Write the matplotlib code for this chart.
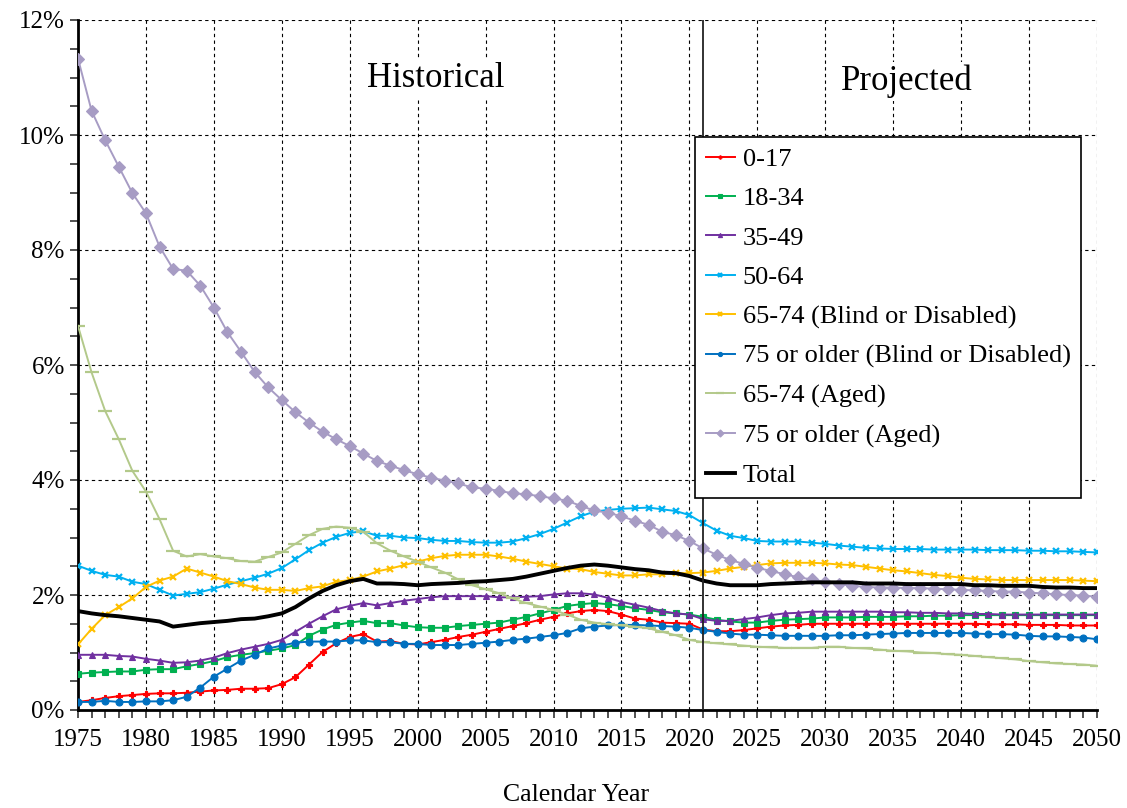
import matplotlib.pyplot as plt
from matplotlib.ticker import MultipleLocator, FuncFormatter

plt.rcParams['font.family'] = ['Liberation Serif', 'DejaVu Serif']

years = list(range(1975, 2051))

# values in percent, one per year 1975-2050
age_0_17 = [0.14, 0.17, 0.21, 0.24, 0.26, 0.28, 0.29, 0.29, 0.30, 0.32, 0.34, 0.35, 0.37, 0.37, 0.38, 0.45, 0.57, 0.79, 1.01, 1.16, 1.27,
            1.32, 1.19, 1.20, 1.15, 1.14, 1.18, 1.22, 1.27, 1.31, 1.36, 1.41, 1.46, 1.51, 1.57, 1.62, 1.68, 1.72, 1.74, 1.72, 1.66, 1.59, 1.57, 1.52, 1.51, 1.50,
            1.40, 1.37, 1.37, 1.39, 1.42, 1.45, 1.47, 1.48, 1.50, 1.50, 1.50, 1.50, 1.50, 1.50, 1.50, 1.50, 1.50, 1.50, 1.50, 1.50, 1.50, 1.49, 1.49, 1.49, 1.48, 1.48, 1.48, 1.47, 1.47, 1.47]
age_18_34 = [0.63, 0.65, 0.66, 0.67, 0.67, 0.70, 0.71, 0.71, 0.76, 0.80, 0.85, 0.92, 0.96, 0.99, 1.03, 1.07, 1.13, 1.29, 1.40, 1.48, 1.52,
             1.55, 1.51, 1.51, 1.47, 1.44, 1.43, 1.43, 1.46, 1.48, 1.50, 1.52, 1.57, 1.62, 1.68, 1.74, 1.81, 1.84, 1.86, 1.84, 1.81, 1.77, 1.74, 1.70, 1.68, 1.66,
             1.62, 1.57, 1.54, 1.52, 1.52, 1.55, 1.57, 1.58, 1.59, 1.61, 1.61, 1.61, 1.62, 1.62, 1.62, 1.63, 1.63, 1.64, 1.64, 1.65, 1.65, 1.65, 1.65, 1.65, 1.65, 1.65, 1.65, 1.65, 1.65, 1.65]
age_35_49 = [0.96, 0.96, 0.96, 0.94, 0.93, 0.89, 0.86, 0.82, 0.83, 0.86, 0.91, 0.99, 1.05, 1.10, 1.15, 1.22, 1.36, 1.50, 1.63, 1.75, 1.81,
             1.86, 1.82, 1.86, 1.90, 1.93, 1.96, 1.98, 1.98, 1.98, 1.98, 1.96, 1.96, 1.97, 1.98, 2.01, 2.03, 2.03, 2.01, 1.95, 1.88, 1.83, 1.78, 1.72, 1.68, 1.66,
             1.58, 1.55, 1.55, 1.58, 1.61, 1.65, 1.68, 1.69, 1.71, 1.71, 1.71, 1.71, 1.71, 1.71, 1.70, 1.70, 1.69, 1.69, 1.68, 1.68, 1.67, 1.67, 1.66, 1.66, 1.66, 1.66, 1.66, 1.66, 1.66, 1.66]
age_50_64 = [2.51, 2.42, 2.35, 2.32, 2.23, 2.19, 2.09, 1.99, 2.02, 2.05, 2.11, 2.18, 2.24, 2.30, 2.37, 2.47, 2.62, 2.78, 2.91, 3.01, 3.08,
             3.11, 3.03, 3.03, 3.00, 2.99, 2.96, 2.94, 2.94, 2.92, 2.91, 2.91, 2.93, 2.99, 3.06, 3.15, 3.26, 3.37, 3.45, 3.48, 3.50, 3.51, 3.52, 3.49, 3.46, 3.39,
             3.25, 3.12, 3.03, 2.99, 2.94, 2.93, 2.93, 2.93, 2.91, 2.89, 2.86, 2.84, 2.82, 2.81, 2.80, 2.80, 2.80, 2.79, 2.79, 2.79, 2.79, 2.78, 2.78, 2.78, 2.77, 2.77, 2.76, 2.76, 2.75, 2.74]
age_65_74_bd = [1.14, 1.41, 1.65, 1.79, 1.94, 2.14, 2.25, 2.32, 2.46, 2.39, 2.32, 2.24, 2.19, 2.13, 2.09, 2.09, 2.07, 2.12, 2.15, 2.23, 2.26,
                2.32, 2.41, 2.46, 2.52, 2.58, 2.64, 2.68, 2.70, 2.70, 2.70, 2.67, 2.63, 2.58, 2.54, 2.50, 2.46, 2.45, 2.40, 2.37, 2.34, 2.34, 2.36, 2.36, 2.38, 2.38,
                2.39, 2.42, 2.46, 2.49, 2.52, 2.55, 2.56, 2.56, 2.56, 2.55, 2.53, 2.52, 2.49, 2.46, 2.43, 2.41, 2.38, 2.35, 2.33, 2.30, 2.28, 2.27, 2.26, 2.26, 2.26, 2.26, 2.26, 2.26, 2.25, 2.24]
age_75_bd = [0.14, 0.14, 0.16, 0.14, 0.14, 0.15, 0.15, 0.17, 0.23, 0.39, 0.58, 0.72, 0.86, 0.96, 1.07, 1.12, 1.17, 1.19, 1.19, 1.19, 1.21,
             1.21, 1.18, 1.18, 1.15, 1.15, 1.13, 1.13, 1.13, 1.15, 1.17, 1.19, 1.22, 1.24, 1.27, 1.30, 1.34, 1.42, 1.45, 1.47, 1.48, 1.48, 1.47, 1.46, 1.45, 1.43,
             1.39, 1.36, 1.33, 1.31, 1.31, 1.30, 1.29, 1.29, 1.29, 1.29, 1.30, 1.30, 1.31, 1.32, 1.33, 1.34, 1.34, 1.34, 1.34, 1.34, 1.33, 1.32, 1.32, 1.31, 1.29, 1.28, 1.28, 1.27, 1.26, 1.23]
age_65_74_aged = [6.68, 5.87, 5.20, 4.71, 4.16, 3.80, 3.32, 2.77, 2.67, 2.71, 2.67, 2.64, 2.59, 2.58, 2.66, 2.74, 2.89, 3.04, 3.15, 3.19, 3.17,
                  3.10, 2.90, 2.77, 2.67, 2.58, 2.48, 2.39, 2.27, 2.17, 2.10, 2.03, 1.94, 1.86, 1.80, 1.74, 1.66, 1.57, 1.52, 1.49, 1.47, 1.45, 1.42, 1.36, 1.30, 1.22,
                  1.18, 1.16, 1.14, 1.12, 1.10, 1.09, 1.08, 1.08, 1.08, 1.10, 1.10, 1.08, 1.07, 1.05, 1.03, 1.02, 1.00, 0.99, 0.97, 0.96, 0.94, 0.92, 0.90, 0.88, 0.85, 0.83, 0.81, 0.80, 0.79, 0.77]
age_75_aged = [11.33, 10.42, 9.91, 9.45, 8.99, 8.64, 8.06, 7.67, 7.64, 7.38, 7.00, 6.57, 6.23, 5.88, 5.61, 5.39, 5.18, 5.00, 4.84, 4.71, 4.59,
               4.46, 4.33, 4.25, 4.17, 4.10, 4.04, 3.99, 3.94, 3.87, 3.85, 3.81, 3.77, 3.75, 3.72, 3.68, 3.64, 3.55, 3.47, 3.43, 3.37, 3.29, 3.22, 3.10, 3.04, 2.94,
               2.81, 2.70, 2.61, 2.54, 2.47, 2.42, 2.36, 2.31, 2.27, 2.23, 2.19, 2.16, 2.14, 2.13, 2.13, 2.12, 2.12, 2.11, 2.10, 2.09, 2.08, 2.07, 2.06, 2.06, 2.04, 2.03, 2.01, 2.00, 1.99, 1.97]
total = [1.72, 1.68, 1.65, 1.63, 1.60, 1.57, 1.54, 1.45, 1.48, 1.51, 1.53, 1.55, 1.58, 1.59, 1.63, 1.68, 1.79, 1.94, 2.07, 2.17, 2.24,
         2.28, 2.20, 2.20, 2.19, 2.17, 2.19, 2.20, 2.21, 2.23, 2.24, 2.26, 2.28, 2.32, 2.37, 2.42, 2.47, 2.51, 2.53, 2.51, 2.48, 2.45, 2.43, 2.39, 2.38, 2.33,
         2.25, 2.20, 2.17, 2.17, 2.17, 2.19, 2.20, 2.21, 2.22, 2.22, 2.22, 2.22, 2.20, 2.20, 2.20, 2.19, 2.19, 2.19, 2.19, 2.19, 2.17, 2.17, 2.16, 2.16, 2.16, 2.14, 2.13, 2.13, 2.12, 2.12]

last_historical = 2021

fig = plt.figure(figsize=(11.27, 8.08), dpi=100)
ax = fig.add_axes([78 / 1127, 98 / 808, 1019 / 1127, 690 / 808])

# label, data, colour, marker, marker size
series = [
    ("0-17", age_0_17, "#FF0000", "P", 4),
    ("18-34", age_18_34, "#00B050", "s", 5),
    ("35-49", age_35_49, "#7030A0", "^", 5),
    ("50-64", age_50_64, "#00B0F0", "x", 5),
    ("65-74 (Blind or Disabled)", age_65_74_bd, "#FFC000", "x", 4.5),
    ("75 or older (Blind or Disabled)", age_75_bd, "#0070C0", "o", 5),
    ("65-74 (Aged)", age_65_74_aged, "#B3C98A", "_", 10),
    ("75 or older (Aged)", age_75_aged, "#A79CC4", "D", 6),
]
for label, vals, col, mk, ms in series:
    ax.plot(years, vals, color=col, lw=1.4, marker=mk, ms=ms, mew=1.6 if mk in "x_" else 0.8,
            mec=col, mfc=col, label=label, zorder=3)
ax.plot(years, total, color="black", lw=2.8, label="Total", zorder=4)

ax.axvline(last_historical, color="#222222", lw=1.3, zorder=5)

ax.set_xlim(1975, 2050)
ax.set_ylim(0, 12)
ax.xaxis.set_major_locator(MultipleLocator(5))
ax.xaxis.set_minor_locator(MultipleLocator(1))
ax.yaxis.set_major_locator(MultipleLocator(2))
ax.yaxis.set_minor_locator(MultipleLocator(0.5))
ax.yaxis.set_major_formatter(FuncFormatter(lambda v, p: f"{v:.0f}%"))
ax.grid(True, which="major", color="black", ls=(0, (3, 3)), lw=0.8)
ax.tick_params(which="both", direction="out", length=6, width=1.2, labelsize=18, color="#333333")
ax.tick_params(axis="x", pad=8)
for s in ["top", "right"]:
    ax.spines[s].set_visible(False)
for s in ["left", "bottom"]:
    ax.spines[s].set_linewidth(2)

ax.text(2001.3, 10.98, "Historical", fontsize=25, ha="center", va="center",
        bbox=dict(facecolor="white", edgecolor="none", pad=2), zorder=6)
ax.text(2036.0, 10.93, "Projected", fontsize=25, ha="center", va="center",
        bbox=dict(facecolor="white", edgecolor="none", pad=2), zorder=6)

leg = ax.legend(loc="upper left", bbox_to_anchor=(0.6055, 0.8304), borderaxespad=0,
                fontsize=19, handlelength=1.1, handletextpad=0.3, labelspacing=0.6,
                markerscale=0.6, fancybox=False, framealpha=1, edgecolor="black",
                borderpad=0.4)
leg.get_frame().set_linewidth(1.2)
leg.set_zorder(7)

fig.text(576 / 1127, 1 - 795 / 808, "Calendar Year", fontsize=18.5, ha="center", va="center")

fig.savefig("out.png", dpi=100)
